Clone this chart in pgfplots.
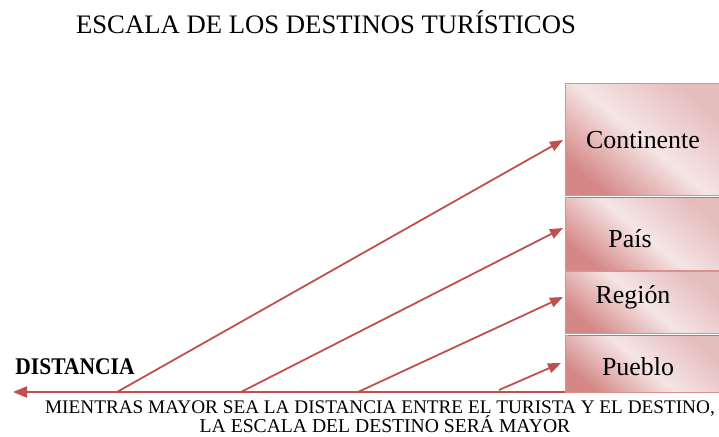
\documentclass[border=0pt]{standalone}
\usepackage{fontspec}
\setmainfont{Liberation Serif}
\usepackage{pgfplots}
\pgfplotsset{compat=1.18}
\usetikzlibrary{arrows.meta}

\definecolor{arrowred}{HTML}{C0504D}
\definecolor{boxdark}{HTML}{D48886}
\definecolor{boxmid}{HTML}{E6BDBD}
\definecolor{boxlight}{HTML}{F5E5E5}
\definecolor{boxedge}{HTML}{D9908E}

\pgfplotsset{scalebox/.style={draw=boxedge, line width=0.8bp,
  top color=boxmid, bottom color=boxdark, middle color=boxlight, shading angle=-40}}

\begin{document}
\begin{tikzpicture}
\begin{axis}[
  width=719bp, height=437bp,
  scale only axis,
  xmin=0, xmax=719, ymin=0, ymax=437,
  y dir=reverse,
  axis lines=none,
  clip=false,
]
% boxes (pixel coordinates, y downwards)
\addplot[scalebox] coordinates {(565,83) (719,83) (719,195) (565,195) (565,83)};
\addplot[scalebox] coordinates {(565,197) (719,197) (719,270) (565,270) (565,197)};
\addplot[scalebox] coordinates {(565,271) (719,271) (719,333) (565,333) (565,271)};
\addplot[scalebox] coordinates {(565,335) (719,335) (719,392) (565,392) (565,335)};
% shadow lines on top of boxes
\addplot[draw=gray!70!boxdark, line width=1bp] coordinates {(568,197) (719,197)};
\addplot[draw=gray!70!boxdark, line width=1bp] coordinates {(568,335) (719,335)};

% horizontal distance axis
\addplot[arrowred, line width=2.2bp, -{Triangle[length=14bp,width=11bp]}]
  coordinates {(565,392) (13,392)};
% arrows towards each scale
\addplot[arrowred, line width=1.8bp, -{Triangle[length=13bp,width=10bp]}]
  coordinates {(117,392) (563,140)};
\addplot[arrowred, line width=1.8bp, -{Triangle[length=13bp,width=10bp]}]
  coordinates {(241,392) (563,228)};
\addplot[arrowred, line width=1.8bp, -{Triangle[length=13bp,width=10bp]}]
  coordinates {(358,392) (563,297)};
\addplot[arrowred, line width=1.8bp, -{Triangle[length=13bp,width=10bp]}]
  coordinates {(499,390) (561,363)};

% texts
\node[anchor=base, inner sep=0pt, font=\fontsize{26.8}{30}\selectfont]
  at (axis cs:326,33) {ESCALA DE LOS DESTINOS TURÍSTICOS};
\node[anchor=base, inner sep=0pt, font=\fontsize{26}{30}\selectfont]
  at (axis cs:643,148) {Continente};
\node[anchor=base, inner sep=0pt, font=\fontsize{26}{30}\selectfont]
  at (axis cs:630,247) {País};
\node[anchor=base, inner sep=0pt, font=\fontsize{26}{30}\selectfont]
  at (axis cs:633,303) {Región};
\node[anchor=base, inner sep=0pt, font=\fontsize{26}{30}\selectfont]
  at (axis cs:638,375) {Pueblo};
\node[anchor=base, inner sep=0pt, xscale=0.9, font=\bfseries\fontsize{24}{28}\selectfont]
  at (axis cs:75,374) {DISTANCIA};
\node[anchor=base, inner sep=0pt, font=\fontsize{19.3}{22}\selectfont]
  at (axis cs:380,413) {MIENTRAS MAYOR SEA LA DISTANCIA ENTRE EL TURISTA Y EL DESTINO,};
\node[anchor=base, inner sep=0pt, font=\fontsize{19.7}{22}\selectfont]
  at (axis cs:385,432) {LA ESCALA DEL DESTINO SERÁ MAYOR};
\end{axis}
\pgfresetboundingbox
\useasboundingbox (0,0) rectangle (719bp,437bp);
\end{tikzpicture}
\end{document}
